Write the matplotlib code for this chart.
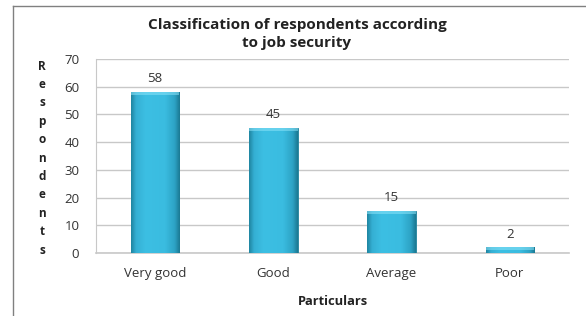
import numpy as np
import matplotlib
matplotlib.use("Agg")
import matplotlib.pyplot as plt
from matplotlib.colors import LinearSegmentedColormap
from matplotlib.lines import Line2D

categories = ["Very good", "Good", "Average", "Poor"]
values = [58, 45, 15, 2]
yticks = [0, 10, 20, 30, 40, 50, 60, 70]
title = "Classification of respondents according\nto job security"
ylabel = "Respondents"
xlabel = "Particulars"

plt.rcParams['font.family'] = ['Open Sans', 'DejaVu Sans']

fig = plt.figure(figsize=(5.86, 3.16), dpi=100)
W, H = 586, 316
ax = fig.add_axes([96 / W, 1 - 253 / H, (569 - 96) / W, (253 - 59) / H])

x = np.arange(len(categories))
bars = ax.bar(x, values, width=0.41, color="#38B9DD", edgecolor="#1F7E98",
              linewidth=0.6, zorder=3)

cmap = LinearSegmentedColormap.from_list(
    "cyl", [(0.0, "#1F86A2"), (0.1, "#35B0D4"), (0.3, "#3CBFE3"),
            (0.7, "#3ABCE0"), (0.9, "#2DA3C5"), (1.0, "#1B7A94")])
grad = np.linspace(0, 1, 64).reshape(1, -1)
for b in bars:
    bx, by = b.get_x(), b.get_y()
    bw, bh = b.get_width(), b.get_height()
    im = ax.imshow(grad, cmap=cmap, aspect="auto",
                   extent=(bx, bx + bw, by, by + bh), zorder=3.5,
                   interpolation="bicubic")
    im.set_clip_path(b)
    cap_h = min(1.0, bh * 0.5)
    ax.fill_between([bx, bx + bw], by + bh - cap_h, by + bh,
                    color="#8BE3F8", alpha=0.55, zorder=3.6, linewidth=0)

for xi, v in zip(x, values):
    ax.annotate(str(v), (xi, v), xytext=(0, 5), textcoords="offset points",
                ha="center", va="bottom", fontsize=9.5, color="#333333")

ax.set_xlim(-0.5, len(categories) - 0.5)
ax.set_ylim(0, 70)
ax.set_yticks(yticks)
ax.set_xticks(x)
ax.set_xticklabels(categories, fontsize=9.5, color="#333333")
ax.tick_params(axis="y", labelsize=9.5, labelcolor="#333333", length=0, pad=12)
ax.tick_params(axis="x", length=0, pad=10)
ax.yaxis.grid(True, color="#C8C8C8", linewidth=1.0, zorder=0)
ax.set_axisbelow(True)
for s in ["top", "right"]:
    ax.spines[s].set_visible(False)
ax.spines["left"].set_color("#C8C8C8")
ax.spines["bottom"].set_color("#C8C8C8")
ax.spines["bottom"].set_linewidth(1.2)

ax.set_xlabel(xlabel, fontsize=9.3, fontweight="bold", color="#222222", labelpad=11)

fig.text(297 / W, 1 - 34 / H, title, ha="center", va="center",
         fontsize=11.0, fontweight="bold", color="#222222", linespacing=1.3)

fig.text(42 / W, 1 - 158 / H, "\n".join(ylabel), ha="center", va="center",
         fontsize=8.5, fontweight="bold", color="#222222", linespacing=1.54)

fig.add_artist(Line2D([13 / W, 13 / W], [0, 1 - 6 / H], color="#808080", lw=1.0))
fig.add_artist(Line2D([13 / W, 1], [1 - 6 / H, 1 - 6 / H], color="#808080", lw=1.0))

fig.savefig("out.png", dpi=100, facecolor="white")
